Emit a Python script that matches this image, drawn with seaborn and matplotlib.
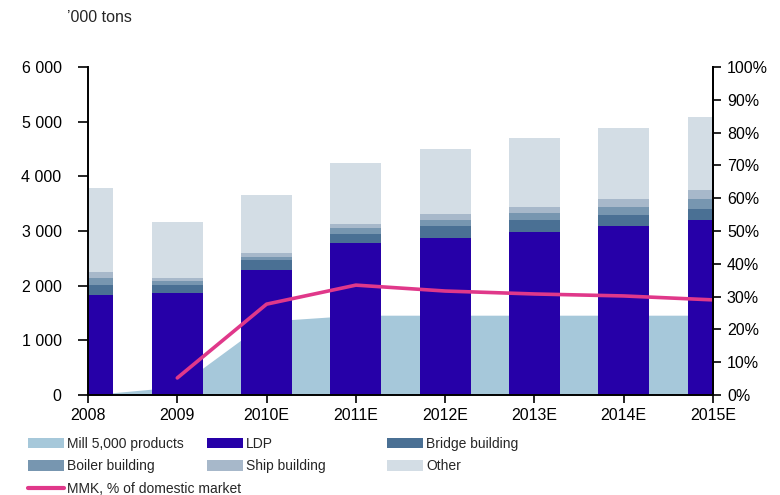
import numpy as np
import pandas as pd
import matplotlib
matplotlib.use("Agg")
import matplotlib.pyplot as plt
import seaborn as sns
from matplotlib.patches import Patch
from matplotlib.lines import Line2D
from matplotlib.ticker import FuncFormatter

# ## Data ('000 tons, MMK share in %)

years = ["2008", "2009", "2010E", "2011E", "2012E", "2013E", "2014E", "2015E"]
mill_5000 = [0, 150, 1350, 1460, 1460, 1460, 1460, 1460]
ldp = [1830, 1865, 2285, 2780, 2870, 2980, 3090, 3200]
bridge = [180, 145, 185, 165, 220, 220, 200, 200]
boiler = [130, 75, 55, 110, 110, 130, 145, 185]
ship = [110, 55, 75, 75, 110, 110, 145, 165]
other = [1535, 1025, 1060, 1115, 1190, 1260, 1300, 1335]
mmk_share = [np.nan, 5.2, 27.7, 33.5, 31.7, 30.8, 30.2, 29.0]

colors = {
    "Mill 5,000 products": "#a6c8da",
    "LDP": "#2600a8",
    "Bridge building": "#4a7094",
    "Boiler building": "#7796b0",
    "Ship building": "#a7b8ca",
    "Other": "#d3dde5",
    "MMK": "#e0388a",
}

sns.set_style("ticks")
plt.rcParams["font.family"] = ["Liberation Sans", "DejaVu Sans"]

df = pd.DataFrame({"year": years, "LDP": ldp, "Bridge building": bridge,
                   "Boiler building": boiler, "Ship building": ship, "Other": other})
layers = ["LDP", "Bridge building", "Boiler building", "Ship building", "Other"]
cum = df[layers].cumsum(axis=1)

fig = plt.figure(figsize=(7.8, 4.95), dpi=100)
ax = fig.add_axes([88 / 780, 1 - 395 / 495, 625 / 780, 328 / 495])

# background area
ax.fill_between(np.arange(len(years)), mill_5000, color=colors["Mill 5,000 products"],
                lw=0, zorder=0)

# stacked bars, tallest first
for name in reversed(layers):
    sns.barplot(x=df["year"], y=cum[name], color=colors[name], saturation=1,
                width=0.57, linewidth=0, errorbar=None, ax=ax, zorder=2)

ax.set_xlim(0, len(years) - 1)
ax.set_ylim(0, 6000)
ax.set_yticks(range(0, 6001, 1000))
ax.yaxis.set_major_formatter(FuncFormatter(lambda v, p: f"{int(v):,}".replace(",", " ")))
ax.set_xlabel("")
ax.set_ylabel("")
ax.tick_params(axis="y", length=7, width=1.2, labelsize=11.5, colors="black", pad=12)
ax.tick_params(axis="x", length=6, width=1.2, labelsize=11.5, colors="black", pad=3)
for s in ["left", "bottom", "right"]:
    ax.spines[s].set_color("black")
    ax.spines[s].set_linewidth(1.4)
ax.spines["top"].set_visible(False)

# MMK share on right axis
ax2 = ax.twinx()
line_df = pd.DataFrame({"pos": np.arange(len(years)), "share": mmk_share}).dropna()
sns.lineplot(data=line_df, x="pos", y="share", color=colors["MMK"], lw=2.6, ax=ax2)
ax2.set_ylim(0, 100)
ax2.set_yticks(range(0, 101, 10))
ax2.yaxis.set_major_formatter(FuncFormatter(lambda v, p: f"{int(v)}%"))
ax2.set_ylabel("")
ax2.set_xlabel("")
ax2.tick_params(axis="y", length=6, width=1.2, labelsize=11.5, colors="black", pad=4)
ax2.spines["top"].set_visible(False)
ax2.spines["right"].set_color("black")
ax2.spines["right"].set_linewidth(1.4)
ax2.spines["left"].set_visible(False)
ax2.spines["bottom"].set_visible(False)
ax.set_xlim(0, len(years) - 1)

fig.text(67 / 780, 1 - 17 / 495, "’000 tons", fontsize=11.5, va="center", ha="left")

# legend, three columns placed by hand
leg_font = {"family": ["Liberation Sans Narrow", "Liberation Sans"], "size": 10}
columns = [
    [("Mill 5,000 products", "patch"), ("Boiler building", "patch"), ("MMK, % of domestic market", "line")],
    [("LDP", "patch"), ("Ship building", "patch")],
    [("Bridge building", "patch"), ("Other", "patch")],
]
col_x = [28 / 780, 207 / 780, 387 / 780]
for x0, items in zip(col_x, columns):
    handles = []
    for label, kind in items:
        if kind == "line":
            handles.append(Line2D([], [], color=colors["MMK"], lw=3, label=label))
        else:
            handles.append(Patch(facecolor=colors[label], edgecolor="none", label=label))
    fig.legend(handles=handles, loc="upper left", bbox_to_anchor=(x0, 1 - 437 / 495),
               frameon=False, prop=leg_font, handlelength=2.6, handleheight=0.75,
               handletextpad=0.2, labelspacing=0.6, borderpad=0, borderaxespad=0)

plt.savefig("out.png", dpi=100)
